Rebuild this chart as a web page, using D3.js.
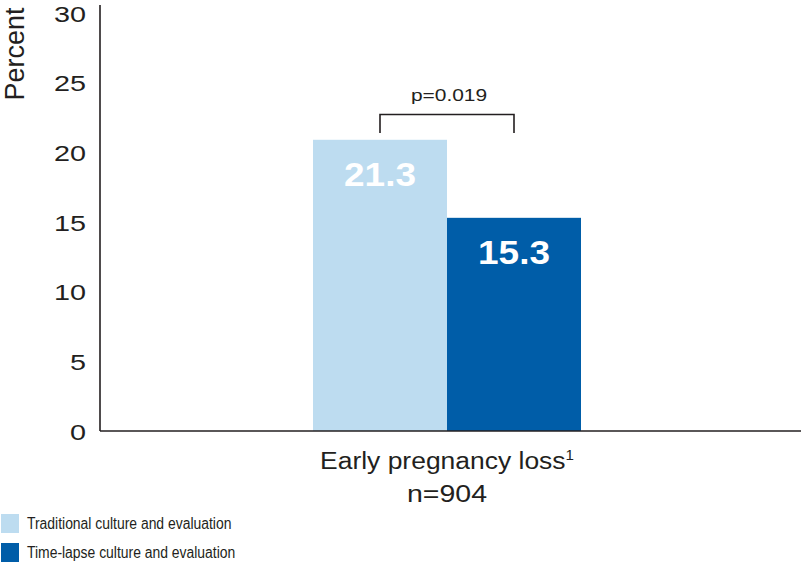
<!DOCTYPE html>
<html><head><meta charset="utf-8">
<script src="https://cdn.jsdelivr.net/npm/d3@7"></script>
<style>
html,body{margin:0;padding:0;background:#fff;}
svg{display:block;font-family:"Liberation Sans",Arial,Helvetica,sans-serif;}
</style></head>
<body><div id="chart"></div>
<script>
const category = "Early pregnancy loss";
const sampleLabel = "n=904";
const series = ["Traditional culture and evaluation", "Time-lapse culture and evaluation"];
const barValues = [20.9, 15.3];       // bar heights as drawn
const valueLabels = ["21.3", "15.3"]; // printed values
const colors = ["#bddcf0", "#005da8"];
const yTicks = [0, 5, 10, 15, 20, 25, 30];
const pValue = "p=0.019";

const W = 802, H = 562, ink = "#231f20";
const svg = d3.select("#chart").append("svg").attr("width", W).attr("height", H);

const y = d3.scaleLinear().domain([0, 30]).range([431, 13]);
const x = d3.scaleBand().domain(series).range([313, 581]).padding(0);

// bars
svg.selectAll("rect.bar").data(series).join("rect")
  .attr("class", "bar")
  .attr("x", d => x(d)).attr("width", x.bandwidth())
  .attr("y", (d, i) => y(barValues[i]))
  .attr("height", (d, i) => y(0) - y(barValues[i]))
  .attr("fill", (d, i) => colors[i]);

// value labels
svg.selectAll("text.val").data(series).join("text")
  .attr("class", "val")
  .attr("transform", (d, i) => `translate(${x(d) + x.bandwidth() / 2},${y(barValues[i]) + 46}) scale(1.12,1)`)
  .attr("text-anchor", "middle").attr("font-size", 33).attr("font-weight", "bold")
  .attr("fill", "#fff").text((d, i) => valueLabels[i]);

// axes lines
svg.append("line").attr("x1", 100).attr("x2", 100).attr("y1", 5).attr("y2", y(0))
  .attr("stroke", ink).attr("stroke-width", 1.6);
svg.append("line").attr("x1", 100).attr("x2", 801).attr("y1", y(0)).attr("y2", y(0))
  .attr("stroke", ink).attr("stroke-width", 1.6);

// tick labels
svg.selectAll("text.tick").data(yTicks).join("text")
  .attr("class", "tick")
  .attr("transform", d => `translate(86,${y(d) + 8.5}) scale(1.28,1)`)
  .attr("text-anchor", "end").attr("font-size", 22.5).attr("fill", ink)
  .text(d => d);

// y title
svg.append("text")
  .attr("transform", "translate(24,54) rotate(-90)")
  .attr("text-anchor", "middle").attr("font-size", 27).attr("fill", ink)
  .text("Percent");

// significance bracket
const xl = x(series[0]) + x.bandwidth() / 2, xr = x(series[1]) + x.bandwidth() / 2;
svg.append("path")
  .attr("d", `M${xl},133 V114.5 H${xr} V133`)
  .attr("fill", "none").attr("stroke", ink).attr("stroke-width", 1.6);
svg.append("text")
  .attr("transform", `translate(${(xl + xr) / 2 + 2},100.5) scale(1.27,1)`)
  .attr("text-anchor", "middle").attr("font-size", 16.5).attr("fill", ink)
  .text(pValue);

// category label
const cx = (x.range()[0] + x.range()[1]) / 2;
const cat = svg.append("text")
  .attr("transform", `translate(${cx},469) scale(1.08,1)`)
  .attr("text-anchor", "middle").attr("font-size", 24.5).attr("fill", ink);
cat.append("tspan").text(category);
cat.append("tspan").attr("font-size", 14).attr("dy", -9).text("1");
svg.append("text")
  .attr("transform", `translate(${cx},501.5) scale(1.24,1)`)
  .attr("text-anchor", "middle").attr("font-size", 23).attr("fill", ink)
  .text(sampleLabel);

// legend
const lg = svg.selectAll("g.leg").data(series).join("g")
  .attr("class", "leg")
  .attr("transform", (d, i) => `translate(0,${514 + i * 29})`);
lg.append("rect").attr("x", 1).attr("y", 0).attr("width", 18).attr("height", 19)
  .attr("fill", (d, i) => colors[i]);
lg.append("text").attr("transform", "translate(27,14.5) scale(0.87,1)")
  .attr("font-size", 16).attr("fill", ink).text(d => d);
</script>
</body></html>
